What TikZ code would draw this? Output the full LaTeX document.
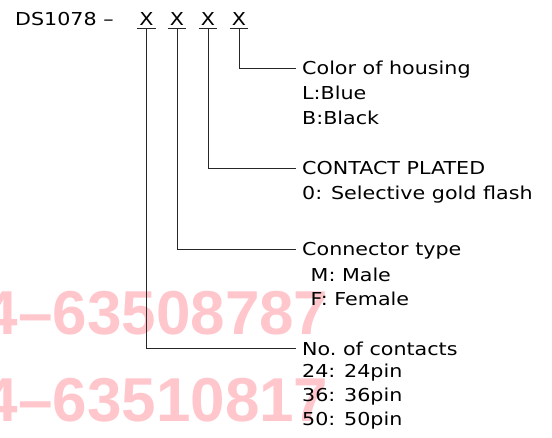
\documentclass[tikz,border=0pt]{standalone}
\usepackage{fontspec}
\setmainfont{DejaVu Sans}[FakeStretch=1.16]
\newfontfamily\markfont{Liberation Sans}
\usepackage{tikz}
\usetikzlibrary{positioning}
\definecolor{markpink}{RGB}{255,198,204}

\tikzset{
  every node/.style={inner sep=0pt,font=\fontsize{17.8}{20}\selectfont},
  code/.style={anchor=base,inner xsep=2pt,inner ysep=2pt,text height=13pt,text depth=0pt},
  field/.style={anchor=base west,inner xsep=6pt,inner ysep=0pt,text height=13pt,text depth=0pt},
  option/.style={anchor=base west,text height=13pt,text depth=3pt},
  leader/.style={draw=black!85,line width=1pt},
  watermark/.style={anchor=base west,text=markpink,font=\markfont\bfseries\fontsize{62}{70}\selectfont}
}

\begin{document}
\begin{tikzpicture}[x=1pt,y=-1pt]
\useasboundingbox (0,0) rectangle (552,438);
% watermark behind the drawing
\begin{scope}
\clip (0,0) rectangle (552,438);
\node[watermark] (wm1) at (-16.5,335) {4–63508787};
\node[watermark] (wm2) at (-16.5,422) {4–63510817};
\end{scope}
% part number
\node[option] (part) at (15,26) {DS1078 --};
\node[code] (xcnt) at (146.5,26) {X};
\node[code] (xtyp) at (177,26) {X};
\node[code] (xplt) at (208,26) {X};
\node[code] (xcol) at (239,26) {X};
\foreach \n in {xcnt,xtyp,xplt,xcol}
  \draw[leader] (\n.south west) -- (\n.south east);
% fields
\node[field] (housing) at (296,75) {Color of housing};
\node[option] (blue) at (302,100) {L:Blue};
\node[option] (black) at (302,125) {B:Black};
\node[field] (plated) at (296,175) {CONTACT PLATED};
\node[option] (gold) at (302,200) {0: Selective gold flash};
\node[field] (ctype) at (296,256) {Connector type};
\node[option] (male) at (310.5,281.5) {M: Male};
\node[option] (female) at (310.5,305.5) {F: Female};
\node[field] (contacts) at (296,355.5) {No.\ of contacts};
\node[option] (p24) at (302,378) {24: 24pin};
\node[option] (p36) at (302,402) {36: 36pin};
\node[option] (p50) at (302,426) {50: 50pin};
% leaders
\draw[leader] (xcol.south) |- (housing.west);
\draw[leader] (xplt.south) |- (plated.west);
\draw[leader] (xtyp.south) |- (ctype.west);
\draw[leader] (xcnt.south) |- (contacts.west);
\end{tikzpicture}
\end{document}
